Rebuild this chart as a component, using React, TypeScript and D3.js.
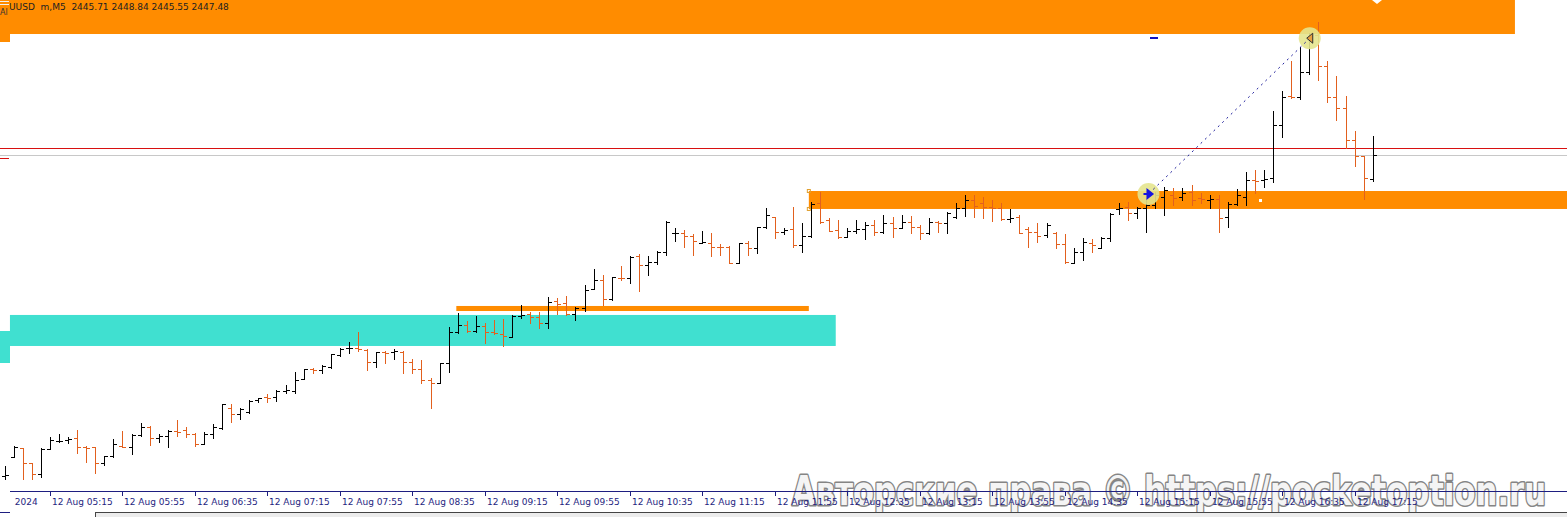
import React from "react";
import * as d3 from "d3";

const W = 1567;
const H = 517;

// OHLC (M5 bars)
const opens = [2423.88,2425.30,2425.92,2424.84,2424.03,2425.87,2426.46,2426.53,2426.68,2426.02,2426.02,2424.84,2425.36,2426.09,2426.02,2426.90,2427.49,2426.68,2426.82,2427.19,2427.27,2426.97,2426.24,2426.97,2427.41,2428.88,2428.44,2428.59,2429.47,2429.69,2429.69,2430.13,2430.13,2431.01,2431.75,2431.68,2431.90,2432.78,2433.29,2433.29,2433.15,2432.26,2433.00,2433.00,2433.00,2432.26,2431.75,2430.94,2430.72,2432.19,2434.47,2434.98,2434.56,2434.93,2434.49,2434.32,2434.12,2435.64,2435.79,2435.55,2435.11,2436.77,2436.58,2435.79,2436.25,2437.61,2438.29,2436.89,2438.46,2438.43,2440.05,2439.41,2439.64,2440.34,2441.74,2441.74,2441.49,2441.03,2440.99,2440.74,2440.74,2439.52,2440.99,2440.62,2442.16,2442.94,2441.80,2442.01,2440.86,2441.52,2443.93,2442.70,2441.97,2441.47,2441.91,2442.02,2442.33,2441.84,2442.46,2442.09,2442.58,2442.21,2441.72,2442.58,2442.46,2442.94,2443.56,2444.17,2443.93,2443.68,2443.56,2442.75,2442.94,2442.01,2441.84,2441.60,2441.77,2440.91,2439.56,2440.37,2440.99,2440.62,2441.38,2443.49,2443.68,2443.19,2443.56,2443.80,2444.41,2444.54,2444.41,2444.78,2444.29,2444.17,2444.22,2442.90,2443.88,2444.41,2445.64,2445.64,2445.76,2449.68,2451.85,2451.76,2453.60,2456.30,2454.02,2451.76,2450.91,2448.58,2447.40,2445.71];
const highs = [2424.62,2426.11,2425.96,2424.86,2425.94,2426.75,2426.97,2426.75,2427.27,2426.09,2426.05,2425.36,2426.60,2427.19,2426.97,2427.78,2427.56,2426.97,2427.27,2428.00,2427.49,2427.05,2427.12,2427.71,2429.18,2429.18,2428.88,2429.47,2429.62,2429.91,2430.20,2430.57,2431.53,2431.75,2431.82,2432.04,2432.85,2433.29,2433.73,2434.47,2433.22,2433.00,2433.07,2433.22,2433.07,2432.48,2432.41,2431.09,2432.19,2434.84,2435.86,2435.30,2435.64,2435.13,2435.35,2435.42,2435.72,2436.43,2435.92,2435.92,2437.06,2436.95,2437.11,2436.28,2437.92,2439.10,2438.66,2438.53,2439.34,2440.05,2440.20,2440.05,2440.42,2442.63,2442.13,2441.97,2441.65,2441.89,2441.77,2440.91,2440.79,2441.03,2441.16,2442.21,2443.56,2442.94,2442.13,2443.63,2442.45,2444.05,2444.78,2442.82,2442.70,2442.09,2442.70,2442.58,2442.70,2443.07,2442.94,2443.07,2442.99,2442.33,2442.82,2442.65,2443.31,2443.97,2444.54,2444.54,2444.41,2444.17,2443.93,2443.49,2443.07,2442.21,2442.46,2442.46,2441.84,2441.67,2440.62,2441.36,2441.28,2441.43,2443.19,2443.97,2444.05,2443.68,2444.30,2444.78,2445.15,2445.03,2445.03,2445.27,2444.66,2444.54,2444.54,2444.05,2444.96,2446.25,2446.38,2446.38,2450.71,2452.20,2454.39,2455.44,2456.42,2457.28,2454.39,2453.28,2451.81,2449.24,2447.40,2448.84];
const lows = [2423.66,2425.25,2423.66,2423.66,2423.81,2425.87,2426.38,2426.31,2425.57,2424.91,2424.10,2424.69,2425.28,2426.02,2425.50,2426.82,2426.16,2426.38,2426.02,2426.82,2426.75,2426.09,2426.24,2426.68,2427.34,2427.85,2428.07,2428.51,2429.32,2429.32,2429.40,2429.98,2429.98,2431.01,2431.46,2431.46,2431.82,2432.70,2432.92,2433.07,2431.68,2431.90,2432.19,2432.48,2431.46,2431.46,2430.72,2428.88,2430.72,2431.53,2434.40,2434.49,2434.49,2433.66,2434.32,2433.46,2434.12,2435.47,2435.15,2434.74,2434.74,2435.77,2435.72,2435.35,2436.04,2437.61,2436.45,2436.82,2438.31,2438.05,2437.45,2438.66,2439.45,2440.09,2441.16,2440.74,2440.09,2440.99,2440.06,2440.09,2439.52,2439.52,2440.09,2440.26,2442.13,2441.40,2441.64,2440.74,2440.37,2441.47,2442.46,2441.89,2441.36,2441.43,2441.72,2441.28,2441.60,2441.72,2441.43,2442.09,2441.77,2441.28,2441.65,2441.84,2441.77,2442.82,2442.99,2442.94,2442.82,2442.65,2442.70,2442.58,2441.72,2440.74,2441.11,2441.43,2440.62,2439.52,2439.52,2439.76,2440.37,2440.62,2441.18,2443.14,2442.70,2442.82,2441.84,2443.58,2443.07,2443.80,2444.17,2443.80,2443.93,2443.56,2441.84,2442.21,2443.80,2443.80,2444.71,2445.15,2445.51,2448.83,2451.69,2451.57,2453.43,2452.99,2451.40,2450.05,2447.97,2446.69,2444.24,2445.55];
const closes = [2423.95,2426.04,2424.82,2424.03,2425.87,2426.53,2426.46,2426.60,2426.02,2425.94,2424.84,2425.36,2426.24,2426.02,2426.90,2427.49,2426.68,2426.82,2427.19,2427.12,2426.97,2426.24,2426.97,2427.49,2429.18,2428.44,2428.81,2429.40,2429.62,2429.62,2430.13,2430.20,2430.94,2431.75,2431.68,2431.97,2432.85,2433.22,2433.29,2433.22,2432.26,2433.00,2432.92,2433.07,2432.26,2431.75,2430.94,2430.72,2432.19,2434.47,2434.98,2434.56,2434.93,2434.49,2434.37,2434.20,2435.67,2435.72,2435.55,2435.11,2436.65,2436.53,2435.77,2436.25,2437.56,2438.29,2436.88,2438.49,2438.43,2440.00,2439.41,2439.61,2440.37,2442.58,2441.78,2441.49,2441.16,2441.08,2440.74,2440.72,2439.52,2440.99,2440.62,2442.16,2443.07,2441.80,2441.97,2440.86,2441.52,2443.88,2442.58,2441.89,2441.45,2441.91,2442.02,2442.33,2441.84,2442.46,2442.09,2442.58,2442.21,2441.72,2442.58,2442.50,2443.19,2443.56,2444.17,2443.73,2443.68,2443.56,2442.75,2442.82,2441.77,2441.84,2441.52,2442.33,2440.91,2439.64,2440.37,2441.11,2440.86,2441.38,2443.14,2443.56,2443.19,2443.56,2443.80,2444.54,2444.91,2444.32,2444.71,2444.17,2444.22,2444.22,2442.82,2443.88,2444.54,2445.64,2445.57,2445.69,2449.68,2451.76,2451.72,2453.60,2456.30,2454.02,2451.76,2450.91,2448.58,2447.40,2445.77,2447.48];

// time axis: bar index of each label
const tickIndex = [-3,5,13,21,29,37,45,53,61,69,77,85,93,101,109,117,125,133,141,149];
const tickLabels = ["12 Aug 2024","12 Aug 05:15","12 Aug 05:55","12 Aug 06:35","12 Aug 07:15","12 Aug 07:55","12 Aug 08:35","12 Aug 09:15","12 Aug 09:55","12 Aug 10:35","12 Aug 11:15","12 Aug 11:55","12 Aug 12:35","12 Aug 13:15","12 Aug 13:55","12 Aug 14:35","12 Aug 15:15","12 Aug 15:55","12 Aug 16:35","12 Aug 17:15"];

// zones: [fromIndex, toIndex, priceHigh, priceLow]
const zoneTop = [0.58, 166.7, 2459.6, 2456.37];
const zoneMid = [88.76, 175, 2444.83, 2443.51];
const zoneThin = [49.85, 88.76, 2436.38, 2436.01];
const zoneTurq = [0.58, 91.73, 2435.72, 2433.44];

const askPrice = 2447.99;
const bidPrice = 2447.48;
// trade line: [index, price]
const tradeOpen = [126.25, 2444.61];
const tradeClose = [144.05, 2456.06];

const header = "UUSD  m,M5  2445.71 2448.84 2445.55 2447.48";
const watermark = "Авторские права © https://pocketoption.ru";

const UP = "#000000";
const DOWN = "#e2601e";
const ORANGE = "#ff8c00";
const TURQ = "#40e0d0";
const AXIS = "#1e1e80";

export default function App() {
  const x = d3.scaleLinear().domain([0, 151]).range([4.7, 1372.7]);
  const y = d3.scaleLinear().domain([2422.78, 2458.87]).range([491, 0]);
  const px = (v: number) => Math.round(v) + 0.5;

  const zoneRect = (z: number[], fill: string, key: string) => (
    <rect key={key} x={x(z[0])} y={y(z[2])} width={x(z[1]) - x(z[0])} height={y(z[3]) - y(z[2])} fill={fill} />
  );

  const t0 = [x(tradeOpen[0]), y(tradeOpen[1])];
  const t1 = [x(tradeClose[0]), y(tradeClose[1])];
  const ang = Math.atan2(t1[1] - t0[1], t1[0] - t0[0]);
  const r = 11;

  return (
    <svg width={W} height={H} style={{ position: "absolute", left: 0, top: 0, background: "#fff" }} fontFamily="DejaVu Sans, sans-serif">
      <defs>
        <clipPath id="axisClip"><rect x={14} y={480} width={W} height={37} /></clipPath>
      </defs>
      <rect x={0} y={0} width={W} height={H} fill="#fff" />
      {zoneRect(zoneTop, ORANGE, "zt")}
      {zoneRect(zoneTurq, TURQ, "zq")}
      {zoneRect(zoneThin, ORANGE, "zn")}
      {zoneRect(zoneMid, ORANGE, "zm")}
      <rect x={x(zoneMid[0]) - 1.5} y={y(zoneMid[2]) - 1.5} width={3} height={3} fill="none" stroke="#e0a030" strokeWidth={1} />
      <rect x={x(zoneMid[0]) - 1.5} y={y(zoneMid[3]) - 1.5} width={3} height={3} fill="none" stroke="#e0a030" strokeWidth={1} />
      <rect x={1259} y={199} width={3} height={3} fill="#fff" />
      <path d="M1372,0 L1382,0 L1377,4 Z" fill="#fff" />
      <rect x={1150} y={37} width={8} height={2} fill="#1010c0" />

      {/* price lines */}
      <line x1={0} x2={W} y1={px(y(askPrice))} y2={px(y(askPrice))} stroke="#d81010" strokeWidth={1} />
      <line x1={0} x2={W} y1={px(y(bidPrice))} y2={px(y(bidPrice))} stroke="#c8c8c8" strokeWidth={1} />

      {/* bars */}
      {opens.map((o, i) => {
        const c = closes[i];
        const col = c >= o ? UP : DOWN;
        const cx = px(x(i));
        const yo = px(y(o));
        const yc = px(y(c));
        return (
          <g key={i} stroke={col} strokeWidth={1}>
            <line x1={cx} x2={cx} y1={Math.round(y(highs[i]))} y2={Math.round(y(lows[i])) + 1} />
            <line x1={cx - 3.5} x2={cx} y1={yo} y2={yo} />
            <line x1={cx} x2={cx + 3.5} y1={yc} y2={yc} />
          </g>
        );
      })}

      {/* trade line with markers */}
      <circle cx={t0[0]} cy={t0[1]} r={r} fill="#e4e48e" opacity={0.9} />
      <circle cx={t1[0]} cy={t1[1]} r={r} fill="#e4e48e" opacity={0.9} />
      <line x1={t0[0] + r * Math.cos(ang) * 0.6} y1={t0[1] + r * Math.sin(ang) * 0.6} x2={t1[0] - r * Math.cos(ang) * 0.4} y2={t1[1] - r * Math.sin(ang) * 0.4} stroke="#1a1a9a" strokeWidth={1} strokeDasharray="2,4" />
      <path d={`M${t0[0] - 5},${t0[1]} L${t0[0] + 1},${t0[1]} M${t0[0] - 1},${t0[1] - 4} L${t0[0] + 4},${t0[1]} L${t0[0] - 1},${t0[1] + 4} Z`} stroke="#1414e0" strokeWidth={2} fill="#1414e0" />
      <path d={`M${t1[0] + 3},${t1[1] - 5} L${t1[0] - 3},${t1[1]} L${t1[0] + 3},${t1[1] + 5} Z`} stroke="#303030" strokeWidth={1} fill="#e8a040" />

      {/* header */}
      <text x={9} y={10} fontSize={9} fill="#222" style={{ whiteSpace: "pre" }}>{header}</text>

      {/* watermark (under the axis) */}
      <text x={792} y={505} fontSize={40} fontWeight="bold" textLength={754} lengthAdjust="spacingAndGlyphs" fill="#f4f4f4" stroke="#858585" strokeWidth={3.2} paintOrder="stroke" strokeLinejoin="round">{watermark}</text>

      {/* time axis */}
      <line x1={10} x2={W} y1={491.5} y2={491.5} stroke={AXIS} strokeWidth={1} />
      <g clipPath="url(#axisClip)">
        {tickIndex.map((ti, k) => {
          const tx = px(x(ti));
          return (
            <g key={"t" + k}>
              <line x1={tx} x2={tx} y1={491} y2={496} stroke={AXIS} strokeWidth={1} />
              <text x={tx + 1.5} y={505} fontSize={9} fill={AXIS}>{tickLabels[k]}</text>
            </g>
          );
        })}
      </g>
      <line x1={95} x2={W} y1={512.5} y2={512.5} stroke="#444" strokeWidth={1} />
      <rect x={95} y={513} width={W - 95} height={4} fill="#ececec" />
      <line x1={95.5} x2={95.5} y1={512} y2={517} stroke="#444" strokeWidth={1} />
      <line x1={0} x2={10} y1={512.5} y2={512.5} stroke={AXIS} strokeWidth={1} />

      {/* left strip */}
      <rect x={0} y={0} width={10} height={42} fill={ORANGE} />
      <line x1={0} x2={9} y1={1.5} y2={1.5} stroke="#f0f0f0" />
      <line x1={0} x2={9} y1={4.5} y2={4.5} stroke="#f0f0f0" />
      <text x={0} y={15} fontSize={8} fill="#333">Al</text>
      <rect x={0} y={331} width={10} height={32} fill={TURQ} />
      <line x1={0} x2={9} y1={158.5} y2={158.5} stroke="#d81010" />
    </svg>
  );
}
